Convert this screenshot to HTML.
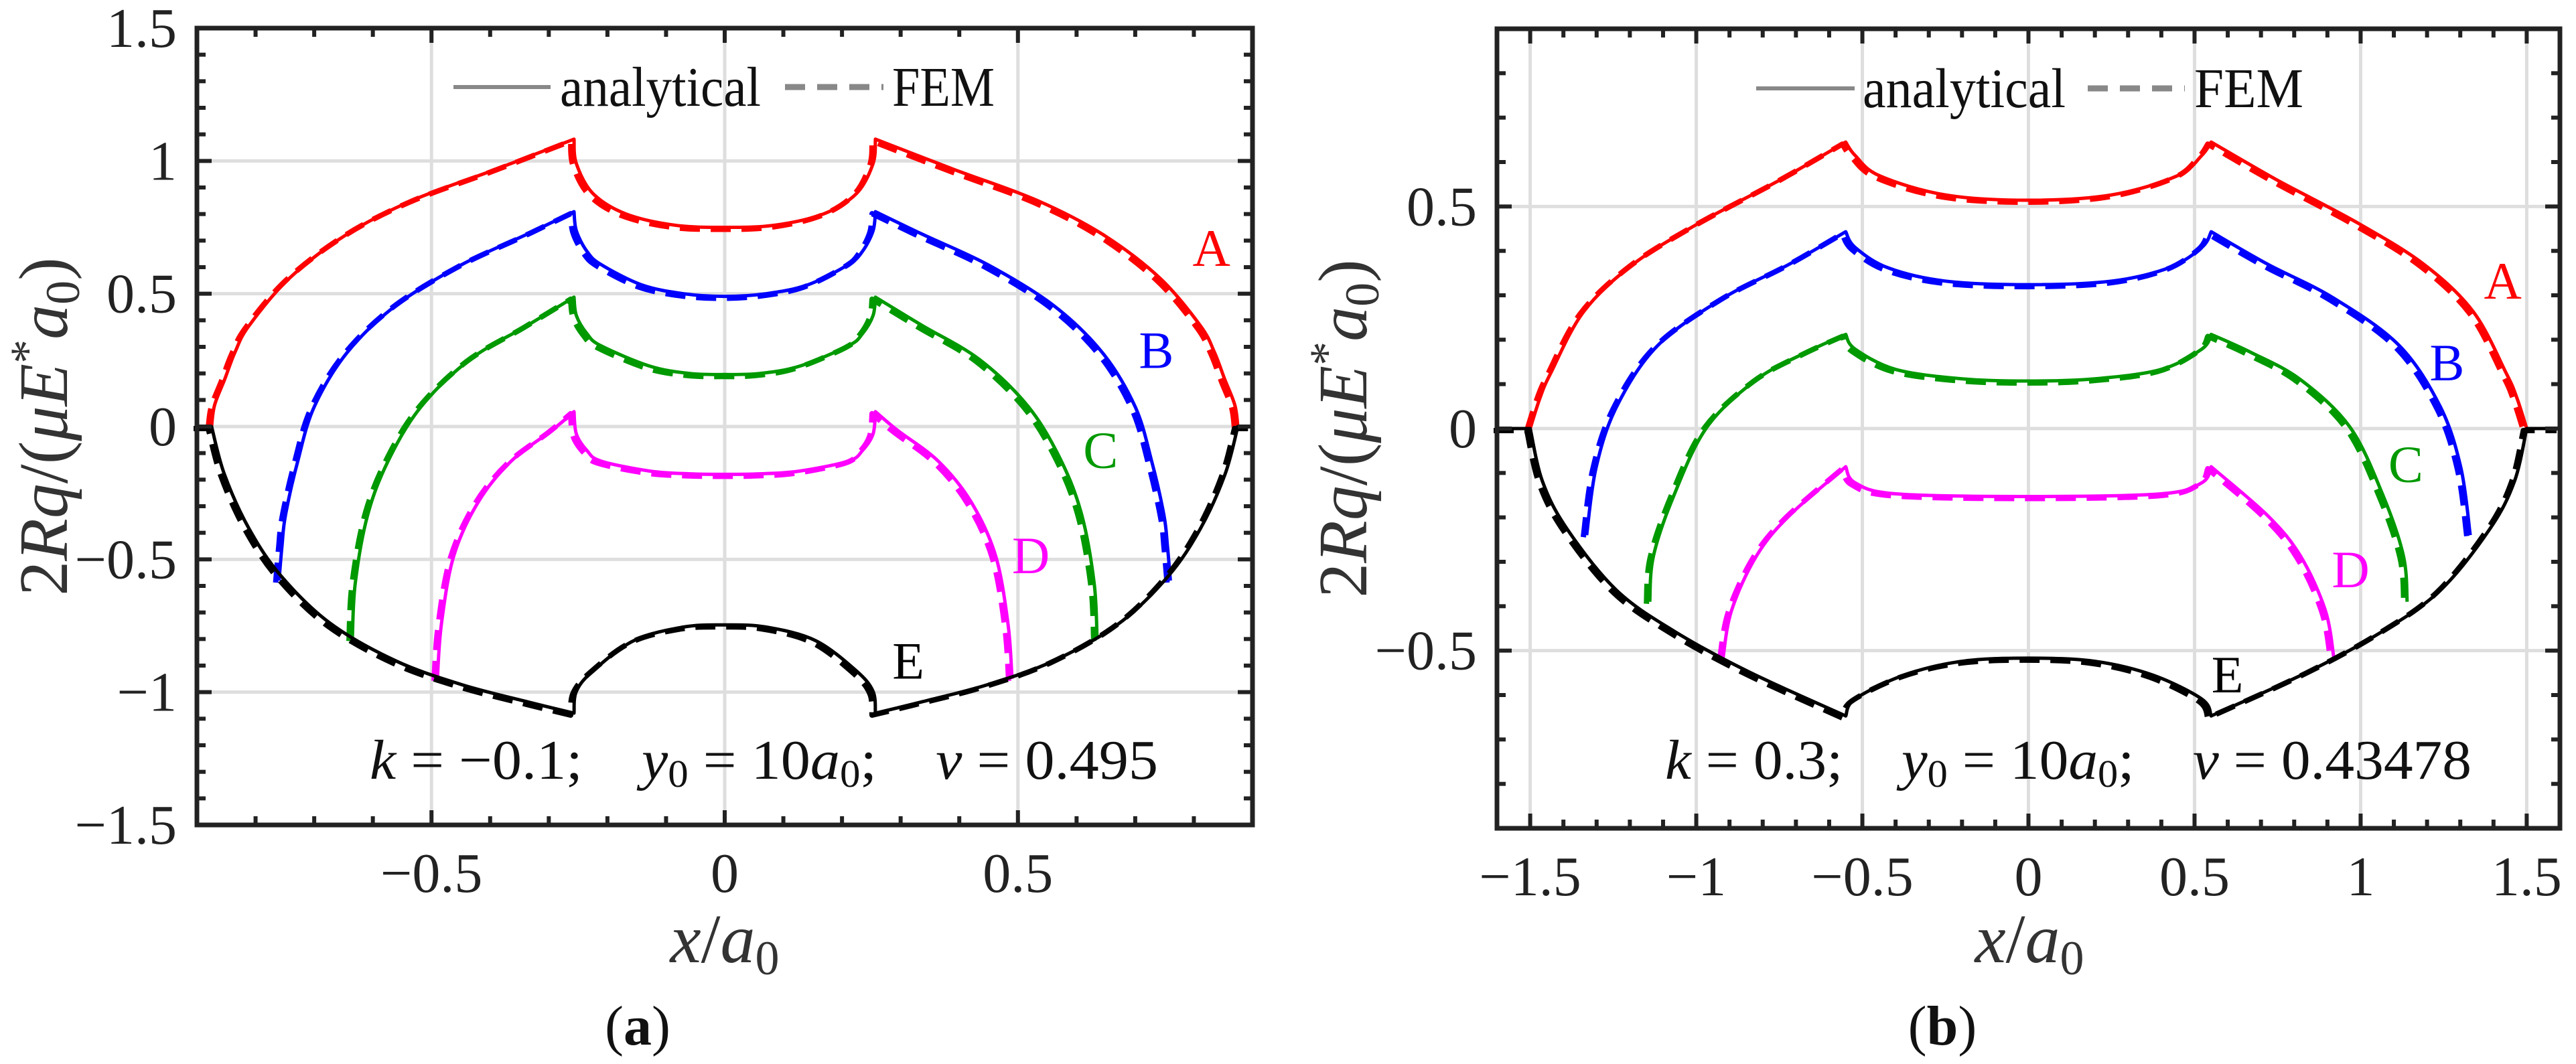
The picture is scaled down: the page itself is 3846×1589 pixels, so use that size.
<!DOCTYPE html>
<html><head><meta charset="utf-8"><style>
html,body{margin:0;padding:0;background:#fff;}
svg{display:block;}
svg text{font-family:"Liberation Serif","DejaVu Serif",serif;white-space:pre;}
</style></head><body>
<svg id="fig" width="3846" height="1589" viewBox="0 0 3846 1589" xmlns="http://www.w3.org/2000/svg" font-family="Liberation Serif, serif" xml:space="preserve">
<g id="pa"></g>
<g id="pb"></g>
</svg>
<script>
// ---------- Panel (a) data ----------
const aXTicks = [-0.5, 0, 0.5];
const aXTickLabels = ["−0.5", "0", "0.5"];
const aYTicks = [-1.5, -1, -0.5, 0, 0.5, 1, 1.5];
const aYTickLabels = ["−1.5", "−1", "−0.5", "0", "0.5", "1", "1.5"];
const aCurveA = [[-0.875,0],[-0.87,0.08],[-0.853,0.176],[-0.835,0.28],[-0.811,0.38],[-0.742,0.559],[-0.644,0.724],[-0.532,0.852],[-0.392,0.967],[-0.257,1.082],[-0.253,0.99],[-0.225,0.878],[-0.169,0.801],[-0.085,0.758],[0,0.75],[0.085,0.758],[0.169,0.801],[0.225,0.878],[0.253,0.99],[0.257,1.082],[0.392,0.967],[0.532,0.852],[0.644,0.724],[0.742,0.559],[0.811,0.38],[0.835,0.28],[0.853,0.176],[0.87,0.08],[0.875,0]];
const aCurveB = [[-0.76,-0.58],[-0.755,-0.45],[-0.749,-0.334],[-0.728,-0.13],[-0.7,0.074],[-0.644,0.278],[-0.56,0.457],[-0.448,0.61],[-0.337,0.724],[-0.257,0.809],[-0.253,0.737],[-0.235,0.66],[-0.211,0.61],[-0.141,0.533],[-0.07,0.5],[0,0.49],[0.07,0.5],[0.141,0.533],[0.211,0.61],[0.235,0.66],[0.253,0.737],[0.257,0.809],[0.337,0.724],[0.448,0.61],[0.56,0.457],[0.644,0.278],[0.7,0.074],[0.728,-0.13],[0.749,-0.334],[0.755,-0.45],[0.76,-0.58]];
const aCurveC = [[-0.635,-0.8],[-0.63,-0.59],[-0.609,-0.334],[-0.574,-0.13],[-0.518,0.074],[-0.434,0.253],[-0.337,0.38],[-0.257,0.487],[-0.253,0.418],[-0.235,0.35],[-0.211,0.304],[-0.127,0.227],[-0.06,0.2],[0,0.196],[0.06,0.2],[0.127,0.227],[0.211,0.304],[0.235,0.35],[0.253,0.418],[0.257,0.487],[0.337,0.38],[0.434,0.253],[0.518,0.074],[0.574,-0.13],[0.609,-0.334],[0.63,-0.59],[0.635,-0.8]];
const aCurveD = [[-0.49,-0.95],[-0.483,-0.742],[-0.462,-0.487],[-0.42,-0.283],[-0.364,-0.13],[-0.295,-0.015],[-0.257,0.056],[-0.253,-0.028],[-0.235,-0.09],[-0.211,-0.13],[-0.127,-0.168],[-0.06,-0.178],[0,-0.18],[0.06,-0.178],[0.127,-0.168],[0.211,-0.13],[0.235,-0.09],[0.253,-0.028],[0.257,0.056],[0.295,-0.015],[0.364,-0.13],[0.42,-0.283],[0.462,-0.487],[0.483,-0.742],[0.49,-0.95]];
const aCurveE = [[-0.9,0],[-0.875,0],[-0.853,-0.181],[-0.811,-0.385],[-0.756,-0.564],[-0.672,-0.742],[-0.56,-0.883],[-0.448,-0.972],[-0.337,-1.036],[-0.257,-1.079],[-0.253,-0.997],[-0.225,-0.921],[-0.155,-0.806],[-0.071,-0.755],[0,-0.747],[0.071,-0.755],[0.155,-0.806],[0.225,-0.921],[0.253,-0.997],[0.257,-1.079],[0.337,-1.036],[0.448,-0.972],[0.56,-0.883],[0.672,-0.742],[0.756,-0.564],[0.811,-0.385],[0.853,-0.181],[0.875,0],[0.9,0]];
const aLabelNames = ["A","B","C","D","E"];
const aLabelX = [0.83, 0.736, 0.641, 0.522, 0.313];
const aLabelY = [0.67, 0.286, -0.09, -0.487, -0.883];

// ---------- Panel (b) data ----------
const bXTicks = [-1.5, -1, -0.5, 0, 0.5, 1, 1.5];
const bXTickLabels = ["−1.5", "−1", "−0.5", "0", "0.5", "1", "1.5"];
const bYTicks = [-0.5, 0, 0.5];
const bYTickLabels = ["−0.5", "0", "0.5"];
const bCurveA = [[-1.5,0],[-1.47,0.07],[-1.438,0.125],[-1.339,0.263],[-1.19,0.37],[-0.993,0.462],[-0.745,0.561],[-0.55,0.645],[-0.522,0.615],[-0.448,0.569],[-0.25,0.526],[0,0.514],[0.25,0.526],[0.448,0.569],[0.522,0.615],[0.55,0.645],[0.745,0.561],[0.993,0.462],[1.19,0.37],[1.339,0.263],[1.438,0.125],[1.47,0.07],[1.5,0]];
const bCurveB = [[-1.33,-0.24],[-1.302,-0.089],[-1.24,0.049],[-1.116,0.187],[-0.918,0.294],[-0.72,0.37],[-0.55,0.443],[-0.522,0.408],[-0.423,0.362],[-0.25,0.332],[0,0.324],[0.25,0.332],[0.423,0.362],[0.522,0.408],[0.55,0.443],[0.72,0.37],[0.918,0.294],[1.116,0.187],[1.24,0.049],[1.302,-0.089],[1.33,-0.24]];
const bCurveC = [[-1.14,-0.39],[-1.129,-0.287],[-1.067,-0.15],[-0.968,0.003],[-0.819,0.11],[-0.671,0.171],[-0.55,0.212],[-0.522,0.179],[-0.399,0.133],[-0.2,0.112],[0,0.107],[0.2,0.112],[0.399,0.133],[0.522,0.179],[0.55,0.212],[0.671,0.171],[0.819,0.11],[0.968,0.003],[1.067,-0.15],[1.129,-0.287],[1.14,-0.39]];
const bCurveD = [[-0.92,-0.52],[-0.894,-0.41],[-0.819,-0.287],[-0.72,-0.196],[-0.55,-0.086],[-0.522,-0.122],[-0.399,-0.147],[0,-0.153],[0.399,-0.147],[0.522,-0.122],[0.55,-0.086],[0.72,-0.196],[0.819,-0.287],[0.894,-0.41],[0.92,-0.52]];
const bCurveE = [[-1.6,0],[-1.5,0],[-1.463,-0.119],[-1.389,-0.226],[-1.24,-0.364],[-1.067,-0.456],[-0.844,-0.547],[-0.55,-0.647],[-0.522,-0.609],[-0.374,-0.555],[-0.2,-0.524],[0,-0.517],[0.2,-0.524],[0.374,-0.555],[0.522,-0.609],[0.55,-0.647],[0.844,-0.547],[1.067,-0.456],[1.24,-0.364],[1.389,-0.226],[1.463,-0.119],[1.5,0],[1.6,0]];
const bLabelNames = ["A","B","C","D","E"];
const bLabelX = [1.428, 1.26, 1.136, 0.97, 0.599];
const bLabelY = [0.332, 0.148, -0.081, -0.318, -0.555];

const curveColors = ["#ff0000","#0000ff","#009a00","#ff00ff","#000000"];
const NS = "http://www.w3.org/2000/svg";
const FONT = "Liberation Serif, DejaVu Serif, serif";
function mk(tag, attrs, parent){
  const e = document.createElementNS(NS, tag);
  for (const k in attrs) e.setAttribute(k, attrs[k]);
  if (tag === 'text') e.setAttribute('font-family', FONT);
  parent.appendChild(e);
  return e;
}

// smooth path through pixel points, breaking at sharp corners (cusps)
function smoothPath(P){
  const n = P.length;
  const corner = new Array(n).fill(false);
  for (let i = 1; i < n - 1; i++) {
    const ax = P[i][0]-P[i-1][0], ay = P[i][1]-P[i-1][1];
    const bx = P[i+1][0]-P[i][0], by = P[i+1][1]-P[i][1];
    const la = Math.hypot(ax,ay)||1, lb = Math.hypot(bx,by)||1;
    const cos = (ax*bx+ay*by)/(la*lb);
    corner[i] = cos < 0.5;
  }
  let d = 'M' + P[0][0].toFixed(1) + ',' + P[0][1].toFixed(1);
  for (let i = 0; i < n - 1; i++) {
    const p1 = P[i], p2 = P[i+1];
    const p0 = (i > 0 && !corner[i]) ? P[i-1] : p1;
    const p3 = (i+2 < n && !corner[i+1]) ? P[i+2] : p2;
    const c1x = p1[0] + (p2[0]-p0[0])/6, c1y = p1[1] + (p2[1]-p0[1])/6;
    const c2x = p2[0] - (p3[0]-p1[0])/6, c2y = p2[1] - (p3[1]-p1[1])/6;
    d += ' C' + c1x.toFixed(1)+','+c1y.toFixed(1)+' '+c2x.toFixed(1)+','+c2y.toFixed(1)+' '+p2[0].toFixed(1)+','+p2[1].toFixed(1);
  }
  return d;
}

function drawPanel(g, cfg){
  const sx = v => cfg.px0 + (v - cfg.xmin) / (cfg.xmax - cfg.xmin) * (cfg.px1 - cfg.px0);
  const sy = v => cfg.py1 - (v - cfg.ymin) / (cfg.ymax - cfg.ymin) * (cfg.py1 - cfg.py0);
  cfg.xTicks.forEach(t => {
    const l = mk('line', {x1:sx(t), x2:sx(t), y1:cfg.py0, y2:cfg.py1, stroke:'#dedede', 'stroke-width':5}, g);
    
    
  });
  cfg.yTicks.forEach(t => {
    const l = mk('line', {x1:cfg.px0, x2:cfg.px1, y1:sy(t), y2:sy(t), stroke:'#dedede', 'stroke-width':5}, g);
    
    
  });
  cfg.curves.forEach((c, i) => {
    const P = c.map(p => [sx(p[0]), sy(p[1])]);
    const dstr = smoothPath(P);
    const d = mk('path', {d:dstr, fill:'none', stroke:curveColors[i], 'stroke-width':8, 'stroke-dasharray':'30 16', 'stroke-linejoin':'round', transform:'translate(-5,3)'}, g);
    
    
    const s = mk('path', {d:dstr, fill:'none', stroke:curveColors[i], 'stroke-width':5, 'stroke-linejoin':'round'}, g);
    
    
  });
  cfg.names.forEach((n, i) => {
    const t = mk('text', {x:sx(cfg.lx[i]), y:sy(cfg.ly[i]) + 26, 'font-size':78, fill:curveColors[i], 'text-anchor':'middle'}, g);
    t.textContent = n;
    
    
  });
  const tk = [];
  for (let v = cfg.xmin; v <= cfg.xmax + 1e-9; v += 0.1) {
    const major = cfg.xTicks.some(t => Math.abs(t - v) < 1e-6);
    const L = major ? 22 : 13;
    tk.push([sx(v), cfg.py1, sx(v), cfg.py1 - L]);
    tk.push([sx(v), cfg.py0, sx(v), cfg.py0 + L]);
  }
  for (let v = cfg.ymin; v <= cfg.ymax + 1e-9; v += 0.1) {
    const major = cfg.yTicks.some(t => Math.abs(t - v) < 1e-6);
    const L = major ? 22 : 13;
    tk.push([cfg.px0, sy(v), cfg.px0 + L, sy(v)]);
    tk.push([cfg.px1, sy(v), cfg.px1 - L, sy(v)]);
  }
  tk.forEach(a => {
    const l = mk('line', {x1:a[0], y1:a[1], x2:a[2], y2:a[3], stroke:'#222', 'stroke-width':6}, g);
    
    
  });
  const f = mk('rect', {x:cfg.px0, y:cfg.py0, width:cfg.px1 - cfg.px0, height:cfg.py1 - cfg.py0, fill:'none', stroke:'#222', 'stroke-width':7}, g);
  
  
  cfg.xTicks.forEach((t, i) => {
    const e = mk('text', {x:sx(t), y:cfg.py1 + 100, 'font-size':84, fill:'#222', 'text-anchor':'middle'}, g);
    e.textContent = cfg.xLabels[i];
    
    
  });
  cfg.yTicks.forEach((t, i) => {
    const e = mk('text', {x:cfg.px0 - 30, y:sy(t) + 28, 'font-size':84, fill:'#222', 'text-anchor':'end'}, g);
    e.textContent = cfg.yLabels[i];
    
    
  });
}

const pa = document.getElementById('pa');
const pb = document.getElementById('pb');
drawPanel(pa, {px0:294, px1:1870, py0:42, py1:1232, xmin:-0.9, xmax:0.9, ymin:-1.5, ymax:1.5,
  xTicks:aXTicks, xLabels:aXTickLabels, yTicks:aYTicks, yLabels:aYTickLabels,
  curves:[aCurveA,aCurveB,aCurveC,aCurveD,aCurveE], names:aLabelNames, lx:aLabelX, ly:aLabelY});
drawPanel(pb, {px0:2235, px1:3822, py0:43, py1:1237, xmin:-1.6, xmax:1.6, ymin:-0.9, ymax:0.9,
  xTicks:bXTicks, xLabels:bXTickLabels, yTicks:bYTicks, yLabels:bYTickLabels,
  curves:[bCurveA,bCurveB,bCurveC,bCurveD,bCurveE], names:bLabelNames, lx:bLabelX, ly:bLabelY});
</script>
<script>
(function(){
  const NS = "http://www.w3.org/2000/svg";
  const svg = document.getElementById('fig');
  function add(tag, attrs, txt, name){
    const e = document.createElementNS(NS, tag);
    for (const k in attrs) e.setAttribute(k, attrs[k]);
    if (tag === 'text') e.setAttribute('font-family', 'Liberation Serif, DejaVu Serif, serif');
    if (txt !== undefined) e.textContent = txt;
    
    
    svg.appendChild(e);
    return e;
  }
  const L = [
    {l0:677,l1:822,t0:836,t1:1136,d0:1172,d1:1319,f0:1332,f1:1485,y:130},
    {l0:2622,l1:2769,t0:2781,t1:3084,d0:3117,d1:3262,f0:3276,f1:3439,y:132}
  ];
  L.forEach(o => {
    add('line', {x1:o.l0,x2:o.l1,y1:o.y,y2:o.y,stroke:'#888','stroke-width':6}, undefined, 'legend-analytical-line');
    add('text', {x:o.t0,y:o.y+28,'font-size':84,fill:'#111',textLength:o.t1-o.t0,lengthAdjust:'spacingAndGlyphs'}, 'analytical', 'legend-analytical-label');
    add('line', {x1:o.d0,x2:o.d1,y1:o.y,y2:o.y,stroke:'#888','stroke-width':9,'stroke-dasharray':'30 18'}, undefined, 'legend-fem-line');
    add('text', {x:o.f0,y:o.y+28,'font-size':84,fill:'#111',textLength:o.f1-o.f0,lengthAdjust:'spacingAndGlyphs'}, 'FEM', 'legend-fem-label');
  });
  const sp = '\u00A0\u00A0\u00A0\u00A0';
  const a1 = add('text', {x:552,y:1163,'font-size':84,fill:'#111',textLength:1177,lengthAdjust:'spacingAndGlyphs'}, undefined, 'parameter-annotation-a');
  a1.innerHTML = '<tspan font-style="italic">k</tspan> = −0.1;'+sp+'<tspan font-style="italic">y</tspan><tspan font-size="58" dy="12">0</tspan><tspan dy="-12"> = 10</tspan><tspan font-style="italic">a</tspan><tspan font-size="58" dy="12">0</tspan><tspan dy="-12">;'+sp+'</tspan><tspan font-style="italic">ν</tspan> = 0.495';
  const a2 = add('text', {x:2486,y:1163,'font-size':84,fill:'#111',textLength:1204,lengthAdjust:'spacingAndGlyphs'}, undefined, 'parameter-annotation-b');
  a2.innerHTML = '<tspan font-style="italic">k</tspan> = 0.3;'+sp+'<tspan font-style="italic">y</tspan><tspan font-size="58" dy="12">0</tspan><tspan dy="-12"> = 10</tspan><tspan font-style="italic">a</tspan><tspan font-size="58" dy="12">0</tspan><tspan dy="-12">;'+sp+'</tspan><tspan font-style="italic">ν</tspan> = 0.43478';
  [[1082,'x-axis-title-a'],[3030,'x-axis-title-b']].forEach(p => {
    const t = add('text', {x:p[0],y:1437,'font-size':104,fill:'#333','text-anchor':'middle'}, undefined, p[1]);
    t.innerHTML = '<tspan font-style="italic">x</tspan>/<tspan font-style="italic">a</tspan><tspan font-size="72" dy="18">0</tspan>';
  });
  [[100,637,'y-axis-title-a'],[2040,640,'y-axis-title-b']].forEach(p => {
    const t = add('text', {x:p[0],y:p[1],'font-size':104,fill:'#333','text-anchor':'middle',transform:'rotate(-90 '+p[0]+' '+p[1]+')'}, undefined, p[2]);
    t.innerHTML = '2<tspan font-style="italic">Rq</tspan>/(<tspan font-style="italic">μE</tspan><tspan font-size="72" dy="-35">*</tspan><tspan font-style="italic" dy="35">a</tspan><tspan font-size="72" dy="18">0</tspan><tspan dy="-18">)</tspan>';
  });
  const c1 = add('text', {x:952,y:1560,'font-size':84,fill:'#111','text-anchor':'middle'}, undefined, 'caption-a');
  c1.innerHTML = '(<tspan font-weight="bold">a</tspan>)';
  const c2 = add('text', {x:2900,y:1560,'font-size':84,fill:'#111','text-anchor':'middle'}, undefined, 'caption-b');
  c2.innerHTML = '(<tspan font-weight="bold">b</tspan>)';
})();
</script>
</body></html>
